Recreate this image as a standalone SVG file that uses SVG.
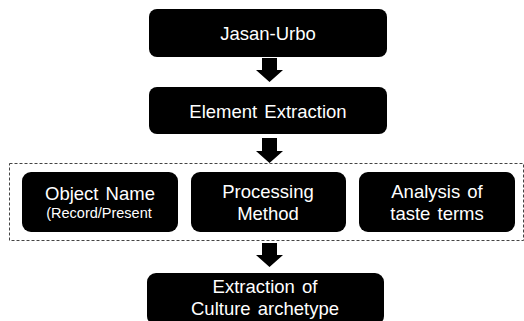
<svg xmlns="http://www.w3.org/2000/svg" width="524" height="321" viewBox="0 0 524 321">
<style>
.box{fill:#000}
.t{font-family:"Liberation Sans",Arial,sans-serif;font-size:18.5px;fill:#fff;text-anchor:middle;word-spacing:2px}
.s{font-size:14.5px;word-spacing:0}
.arr{fill:#000}
</style>
<rect x="0" y="0" width="524" height="321" fill="#fff"/>
<g id="connectors">
<path class="arr" d="M262,58 H277 V70 H283 L269.5,82 L256,70 H262 Z"/>
<path class="arr" d="M262,138 H277 V151 H283 L269.5,163 L256,151 H262 Z"/>
<path class="arr" d="M262,243 H277 V255 H283 L269.5,267 L256,255 H262 Z"/>
</g>
<g id="group">
<rect x="9.5" y="163.5" width="514" height="77" fill="none" stroke="#444" stroke-width="1" stroke-dasharray="3,2"/>
</g>
<g id="n1"><rect class="box" x="149" y="9" width="238" height="48" rx="8"/><text class="t" x="268" y="40">Jasan-Urbo</text></g>
<g id="n2"><rect class="box" x="149" y="87" width="238" height="47" rx="8"/><text class="t" x="268" y="118">Element Extraction</text></g>
<g id="n3"><rect class="box" x="22" y="172" width="156" height="60" rx="9"/><text class="t" x="100" y="200">Object Name</text><text class="t s" x="99" y="218">(Record/Present</text></g>
<g id="n4"><rect class="box" x="191" y="172" width="155" height="60" rx="9"/><text class="t" x="268" y="198">Processing</text><text class="t" x="268" y="220">Method</text></g>
<g id="n5"><rect class="box" x="359" y="172" width="156" height="60" rx="9"/><text class="t" x="437" y="198">Analysis of</text><text class="t" x="437" y="220">taste terms</text></g>
<g id="n6"><rect class="box" x="147" y="273" width="237" height="52" rx="9"/><text class="t" x="265" y="293">Extraction of</text><text class="t" x="265" y="315">Culture archetype</text></g>
</svg>
